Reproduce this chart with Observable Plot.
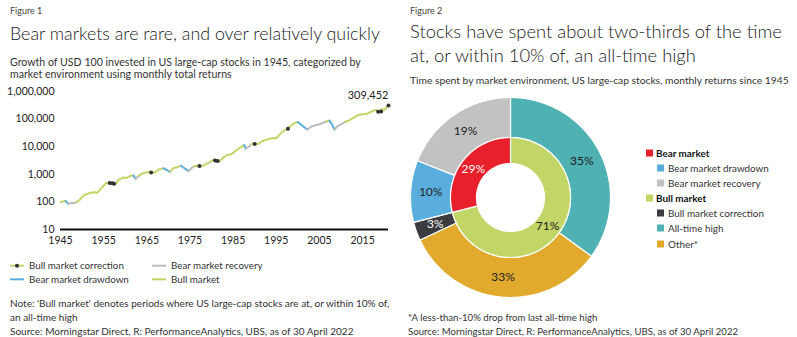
<!DOCTYPE html>
<html><head><meta charset="utf-8">
<script src="https://cdn.jsdelivr.net/npm/d3@7"></script>
<script src="https://cdn.jsdelivr.net/npm/@observablehq/plot@0.6"></script>
<style>
html,body{margin:0;padding:0;background:#fff;}
#root{position:relative;width:797px;height:337px;overflow:hidden;font-family:Lato,sans-serif;}
#bg{position:absolute;left:0;top:0;}
.panel{position:absolute;}
</style></head><body>
<div id="root"><svg id="bg" width="797" height="337"></svg>
<div id="left" class="panel" style="left:0;top:83px"></div>
<div id="right" class="panel" style="left:405px;top:92px"></div>
</div>
<script>
// ---------- Figure 1 data ----------
const years   = [1945.0,1946.2,1946.8,1947.5,1948.2,1948.8,1949.5,1950.3,1951.0,1952.0,1952.8,1953.6,1954.5,1955.5,1956.3,1957.2,1957.8,1958.5,1959.5,1960.3,1961.2,1961.9,1962.4,1963.2,1963.9,1965.0,1966.2,1966.8,1967.8,1968.9,1970.4,1971.2,1972.0,1972.9,1974.7,1975.3,1975.9,1976.8,1977.6,1978.5,1979.5,1980.5,1981.2,1981.9,1982.8,1983.6,1984.6,1985.5,1986.5,1987.6,1987.9,1988.8,1989.3,1990.0,1990.8,1991.8,1993.0,1994.3,1995.0,1996.0,1997.0,1997.7,1998.5,1999.3,2000.0,2001.2,2002.2,2003.0,2004.0,2005.0,2006.6,2007.3,2008.0,2008.5,2009.0,2010.0,2011.0,2011.9,2013.0,2014.0,2015.0,2016.0,2017.0,2018.0,2018.8,2019.5,2020.2,2020.8,2021.0];
const values  = [100,108,85,92,90,100,120,170,190,215,225,215,320,470,490,470,440,640,760,740,880,900,690,900,1050,1200,1180,1150,1500,1650,1220,1700,1800,2050,1300,1650,1950,2050,1950,2250,2700,3400,3200,3000,4200,5000,5300,7000,9000,11500,8500,10500,12500,13000,12500,16000,18500,20500,20000,30000,40000,46000,60000,72000,78000,55000,42000,52000,60000,65000,82000,88000,60000,42000,52000,65000,80000,90000,115000,140000,150000,155000,185000,215000,190000,230000,220000,300000,309452];
const regimes = ["bull","draw","rec","rec","rec","bull","bull","bull","bull","bull","bull","bull","bull","bull","bull","bull","bull","bull","bull","bull","bull","draw","rec","bull","bull","bull","bull","bull","bull","draw","bull","bull","bull","draw","rec","rec","bull","bull","bull","bull","bull","bull","bull","bull","bull","bull","bull","bull","bull","draw","rec","rec","bull","bull","bull","bull","bull","bull","bull","bull","bull","bull","bull","bull","draw","draw","rec","rec","rec","rec","bull","draw","draw","rec","rec","rec","bull","bull","bull","bull","bull","bull","bull","bull","bull","bull","bull","bull","bull"];
const corrYears  = [1956.4,1957.0,1957.4,1966.0,1977.2,1980.8,1981.4,1990.0,1997.7,2018.6,2019.3,2021.0];
const corrValues = [480,470,455,1150,2000,3150,3050,12500,45000,185000,190000,309452];
const xTicks = [1945,1955,1965,1975,1985,1995,2005,2015];
const yTicks = [10,100,1000,10000,100000,1000000];
const regimeNames  = ["bull","draw","rec"];
const regimeColors = ["#c2d567","#5aaede","#bcbcbc"];

// ---------- Figure 2 data ----------
const outerNames  = ["All-time high","Other*","Bull market correction","Bear market drawdown","Bear market recovery"];
const outerShares = [35,33,3,10,19];
const outerColors = ["#4fb1b2","#e1aa2c","#3a3c3f","#5aaede","#c2c2c2"];
const innerNames  = ["Bull market","Bear market"];
const innerShares = [71,29];
const innerColors = ["#c2d567","#e8202b"];

// ---------- Figure 1 chart ----------
const pts = [];
let run = 0;
for (let i = 0; i < years.length; i++) {
  if (i > 0 && regimes[i] !== regimes[i-1]) {
    pts.push({t: years[i], v: values[i], run, reg: regimes[i-1]});
    run++;
  }
  pts.push({t: years[i], v: values[i], run, reg: regimes[i]});
}
const corr = corrYears.map((t, i) => ({t, v: corrValues[i]}));
const last = {t: years[years.length-1], v: values[values.length-1]};

const left = Plot.plot({
  width: 395, height: 166,
  marginLeft: 60, marginRight: 7, marginTop: 8, marginBottom: 20,
  style: {fontFamily: "Lato, sans-serif", fontSize: "10.5px", color: "#222", background: "transparent"},
  x: {domain: [1945, 2021], ticks: xTicks, tickFormat: d => String(d), tickSize: 0, tickPadding: 7, label: null},
  y: {type: "log", domain: [10, 1e6], ticks: yTicks, tickFormat: d3.format(","), tickSize: 0, tickPadding: 6, label: null},
  color: {domain: regimeNames, range: regimeColors},
  marks: [
    Plot.line(pts, {x: "t", y: "v", z: "run", stroke: "reg", strokeWidth: 2, curve: "linear"}),
    Plot.ruleY([10], {stroke: "#111", strokeWidth: 2}),
    Plot.dot(corr, {x: "t", y: "v", r: 2, fill: "#333", stroke: "none"}),
    Plot.text([last], {x: "t", y: "v", text: d => d3.format(",")(d.v), dy: -10, textAnchor: "end", fontSize: 11, fill: "#222"})
  ]
});
document.getElementById("left").appendChild(left);

// ---------- Figure 2 chart ----------
function ring(names, shares, colors, r0, r1) {
  const arcs = d3.pie().sort(null).value(d => d)(shares);
  const polys = [], labels = [];
  arcs.forEach((a, i) => {
    const n = Math.max(2, Math.ceil((a.endAngle - a.startAngle) / 0.02));
    for (let k = 0; k <= n; k++) {
      const ang = a.startAngle + (a.endAngle - a.startAngle) * k / n;
      polys.push({key: names[i], x: r1 * Math.sin(ang), y: r1 * Math.cos(ang)});
    }
    for (let k = n; k >= 0; k--) {
      const ang = a.startAngle + (a.endAngle - a.startAngle) * k / n;
      polys.push({key: names[i], x: r0 * Math.sin(ang), y: r0 * Math.cos(ang)});
    }
    const mid = (a.startAngle + a.endAngle) / 2, rm = (r0 + r1) / 2;
    labels.push({key: names[i], share: shares[i], x: rm * Math.sin(mid), y: rm * Math.cos(mid)});
  });
  return {polys, labels};
}
const outer = ring(outerNames, outerShares, outerColors, 60, 100);
const inner = ring(innerNames, innerShares, innerColors, 34, 60);
const whiteLabels = ["Bear market", "Bull market correction"];

const right = Plot.plot({
  width: 210, height: 210, margin: 0,
  style: {fontFamily: "Lato, sans-serif", background: "transparent"},
  x: {domain: [-105, 105], axis: null},
  y: {domain: [-105, 105], axis: null},
  color: {domain: outerNames.concat(innerNames), range: outerColors.concat(innerColors)},
  marks: [
    Plot.line(outer.polys, {x: "x", y: "y", z: "key", fill: "key", stroke: "white", strokeWidth: 1.2, curve: "linear-closed"}),
    Plot.line(inner.polys, {x: "x", y: "y", z: "key", fill: "key", stroke: "white", strokeWidth: 1.2, curve: "linear-closed"}),
    Plot.text(outer.labels.concat(inner.labels), {x: "x", y: "y", text: d => d.share + "%", fontSize: 12,
      fill: d => whiteLabels.includes(d.key) ? "white" : "#222"})
  ]
});
document.getElementById("right").appendChild(right);

// ---------- Text, legends ----------
const bg = d3.select("#bg");
function txt(x, y, s, size, opts = {}) {
  return bg.append("text").attr("x", x).attr("y", y).attr("font-size", size)
    .attr("font-family", opts.family || "Lato, sans-serif").attr("fill", opts.fill || "#222")
    .attr("font-weight", opts.weight || 400).text(s);
}
// fit a group of texts to the size that makes the reference line reach the target width
function fit(group, refIdx, target) {
  const el = group[refIdx].node();
  const size = +el.getAttribute("font-size");
  const w = el.getComputedTextLength();
  if (w > 0) {
    const ns = Math.max(6, Math.min(30, size * target / w));
    group.forEach(g => g.attr("font-size", ns.toFixed(2)));
  }
}
const titleFont = "'Lato Light', Lato, sans-serif";
txt(10, 14, "Figure 1", 9, {fill: "#444"});
fit([txt(10, 40, "Bear markets are rare, and over relatively quickly", 18, {fill: "#1a1a1a", family: titleFont, weight: 300})], 0, 370);
fit([txt(10, 65.5, "Growth of USD 100 invested in US large-cap stocks in 1945, categorized by", 10.5, {fill: "#333"}),
     txt(10, 78, "market environment using monthly total returns", 10.5, {fill: "#333"})], 0, 351);

// left legend
const legRows = [
  {x: 10, y: 265.7, c: regimeColors[0], dot: true, t: "Bull market correction"},
  {x: 10, y: 279.3, c: regimeColors[1], t: "Bear market drawdown"},
  {x: 152, y: 265.7, c: regimeColors[2], t: "Bear market recovery"},
  {x: 152, y: 279.3, c: regimeColors[0], t: "Bull market"}
];
const legT = [];
legRows.forEach(r => {
  bg.append("line").attr("x1", r.x).attr("x2", r.x + 14).attr("y1", r.y).attr("y2", r.y)
    .attr("stroke", r.c).attr("stroke-width", 2);
  if (r.dot) bg.append("circle").attr("cx", r.x + 7).attr("cy", r.y).attr("r", 2).attr("fill", "#333");
  legT.push(txt(r.x + 19, r.y + 3.6, r.t, 10, {fill: "#333"}));
});
fit(legT, 0, 95);
const notesL = [
  txt(10, 307.3, "Note: 'Bull market' denotes periods where US large-cap stocks are at, or within 10% of,", 10, {fill: "#333"}),
  txt(10, 321.3, "an all-time high", 10, {fill: "#333"}),
  txt(10, 335, "Source: Morningstar Direct, R: PerformanceAnalytics, UBS, as of 30 April 2022", 10, {fill: "#333"})
];
fit(notesL, 0, 380);

// right texts
txt(410, 14, "Figure 2", 9, {fill: "#444"});
fit([txt(410, 37.5, "Stocks have spent about two-thirds of the time", 19, {fill: "#1a1a1a", family: titleFont, weight: 300}),
     txt(410, 62, "at, or within 10% of, an all-time high", 19, {fill: "#1a1a1a", family: titleFont, weight: 300})], 0, 372);
fit([txt(410, 83.5, "Time spent by market environment, US large-cap stocks, monthly returns since 1945", 10, {fill: "#333"})], 0, 379);

// right legend
const rl = [
  {y: 153, c: innerColors[1], t: "Bear market", head: true},
  {y: 168, c: outerColors[3], t: "Bear market drawdown"},
  {y: 183, c: outerColors[4], t: "Bear market recovery"},
  {y: 198, c: innerColors[0], t: "Bull market", head: true},
  {y: 213, c: outerColors[2], t: "Bull market correction"},
  {y: 228, c: outerColors[0], t: "All-time high"},
  {y: 244, c: outerColors[1], t: "Other*"}
];
const rlT = [];
rl.forEach(r => {
  const sx = r.head ? 646 : 657;
  bg.append("rect").attr("x", sx).attr("y", r.y - 3.5).attr("width", 7).attr("height", 7).attr("fill", r.c);
  rlT.push(txt(r.head ? 656 : 668, r.y + 3.7, r.t, 10.5, {weight: r.head ? 700 : 400, fill: r.head ? "#111" : "#333"}));
});
fit(rlT, 1, 101);
fit([txt(408, 320.5, "*A less-than-10% drop from last all-time high", 10, {fill: "#333"}),
     txt(408, 335, "Source: Morningstar Direct, R: PerformanceAnalytics, UBS, as of 30 April 2022", 10, {fill: "#333"})], 1, 331);
</script></body></html>
